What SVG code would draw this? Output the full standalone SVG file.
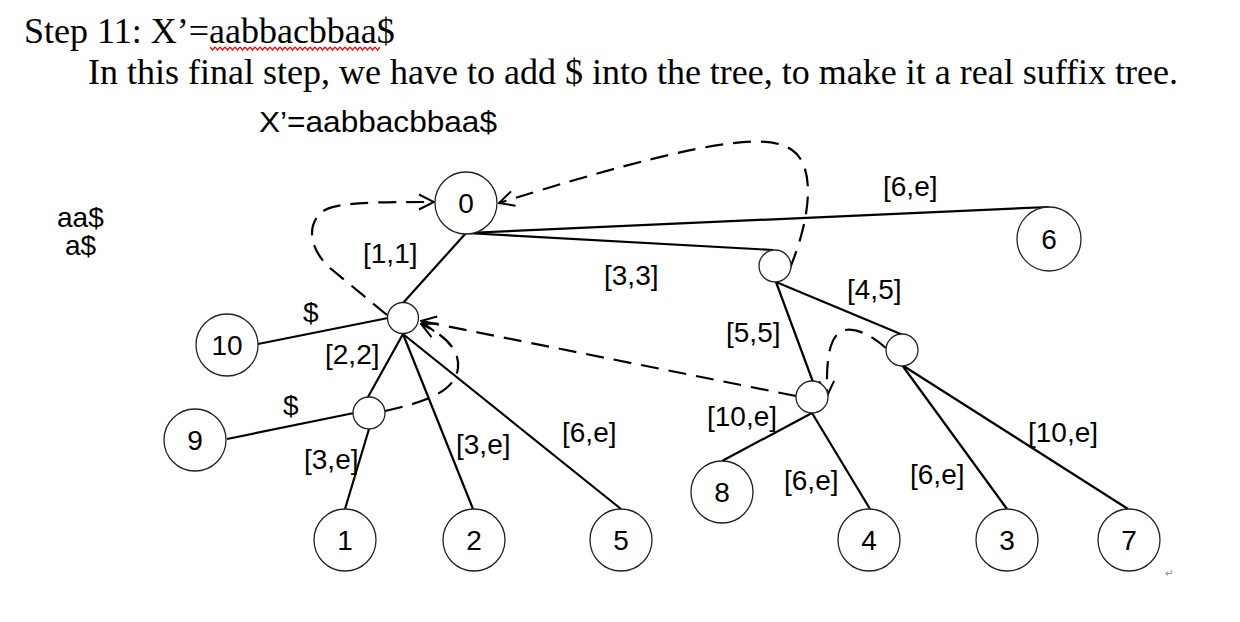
<svg xmlns="http://www.w3.org/2000/svg" width="1240" height="622" viewBox="0 0 1240 622">
<style>
.serif{font-family:"Liberation Serif","Times New Roman",serif;fill:#000}
.sans{font-family:"Liberation Sans",Arial,sans-serif;fill:#000}
.lbl{font-family:"Liberation Sans",Arial,sans-serif;font-size:28px;fill:#000}
.num{font-family:"Liberation Sans",Arial,sans-serif;font-size:28px;fill:#000;text-anchor:middle}
.node{fill:#fff;stroke:#222;stroke-width:1.3}
.edge{stroke:#000;stroke-width:2.2;fill:none}
.link{stroke:#000;stroke-width:2.2;fill:none;stroke-dasharray:18 10}
</style>
<defs>
<marker id="open" viewBox="0 0 18 18" refX="17" refY="9" markerWidth="18" markerHeight="18" markerUnits="userSpaceOnUse" orient="auto">
<path d="M2 1.5 L17 9 L2 16.5" fill="none" stroke="#000" stroke-width="2"/>
</marker>
<pattern id="wave" x="210" y="46" width="5" height="5" patternUnits="userSpaceOnUse">
<path d="M0 1 L2.5 4 L5 1" fill="none" stroke="#e01010" stroke-width="1.4"/>
</pattern>
</defs>
<rect width="1240" height="622" fill="#fff"/>

<g id="header">
<text class="serif" x="24" y="43" font-size="36">Step 11: X’=aabbacbbaa$</text>
<rect x="210" y="46" width="170" height="5" fill="url(#wave)"/>
<text class="serif" x="88" y="84" font-size="36">In this final step, we have to add $ into the tree, to make it a real suffix tree.</text>
<text class="sans" x="259" y="132" font-size="30" textLength="238" lengthAdjust="spacingAndGlyphs">X’=aabbacbbaa$</text>
<text class="lbl" x="57" y="227">aa$</text>
<text class="lbl" x="65" y="255">a$</text>
<text x="1165" y="577" font-family="'DejaVu Sans',sans-serif" font-size="11" fill="#999">↵</text>
</g>

<g id="connectors">
<line class="edge" x1="466" y1="233" x2="1049" y2="207"/>
<line class="edge" x1="466" y1="233" x2="773" y2="250"/>
<line class="edge" x1="466" y1="233" x2="403" y2="303"/>
<line class="edge" x1="258" y1="344" x2="388" y2="318"/>
<line class="edge" x1="403" y1="334" x2="368" y2="397"/>
<line class="edge" x1="403" y1="334" x2="473" y2="509"/>
<line class="edge" x1="403" y1="334" x2="621" y2="509"/>
<line class="edge" x1="227" y1="439" x2="354" y2="413"/>
<line class="edge" x1="369" y1="429" x2="345" y2="509"/>
<line class="edge" x1="776" y1="282" x2="813" y2="382"/>
<line class="edge" x1="776" y1="282" x2="903" y2="335"/>
<line class="edge" x1="812" y1="413" x2="722" y2="461"/>
<line class="edge" x1="812" y1="413" x2="870" y2="509"/>
<line class="edge" x1="902" y1="365" x2="1007" y2="509"/>
<line class="edge" x1="902" y1="365" x2="1128" y2="509"/>

<path class="link" d="M790 268 C812 215 815 165 792 150 C768 132 700 140 499 203" marker-end="url(#open)"/>
<path class="link" d="M387 315 L330 268 C308 248 306 222 325 210 C340 202 380 202 434 202" marker-end="url(#open)"/>
<path class="link" d="M796 396 L421 321" marker-end="url(#open)"/>
<path class="link" d="M385 411 C425 402 455 392 458 368 C460 350 445 335 421 324" marker-end="url(#open)"/>
<path class="link" d="M886 348 C872 336 858 328 845 330 C830 334 826 355 827 396" marker-end="url(#open)"/>

<text class="lbl" x="883" y="196">[6,e]</text>
<text class="lbl" x="363" y="263">[1,1]</text>
<text class="lbl" x="604" y="285">[3,3]</text>
<text class="lbl" x="847" y="299">[4,5]</text>
<text class="lbl" x="726" y="342">[5,5]</text>
<text class="lbl" x="707" y="426">[10,e]</text>
<text class="lbl" x="784" y="490">[6,e]</text>
<text class="lbl" x="910" y="484">[6,e]</text>
<text class="lbl" x="1028" y="442">[10,e]</text>
<text class="lbl" x="303" y="322">$</text>
<text class="lbl" x="325" y="364">[2,2]</text>
<text class="lbl" x="283" y="415">$</text>
<text class="lbl" x="304" y="469">[3,e]</text>
<text class="lbl" x="456" y="454">[3,e]</text>
<text class="lbl" x="562" y="442">[6,e]</text>
</g>

<g id="n0"><circle class="node" cx="466" cy="203" r="31"/><text class="num" x="466" y="213">0</text></g>
<g id="n6"><circle class="node" cx="1049" cy="239" r="32"/><text class="num" x="1049" y="249">6</text></g>
<g id="nA"><circle class="node" cx="775" cy="266" r="16"/></g>
<g id="nB"><circle class="node" cx="403" cy="318" r="15.5"/></g>
<g id="nC"><circle class="node" cx="369" cy="413" r="16"/></g>
<g id="nD"><circle class="node" cx="902" cy="350" r="16"/></g>
<g id="nE"><circle class="node" cx="812" cy="397" r="16"/></g>
<g id="n10"><circle class="node" cx="227" cy="345" r="31"/><text class="num" x="227" y="355">10</text></g>
<g id="n9"><circle class="node" cx="195" cy="440" r="31"/><text class="num" x="195" y="450">9</text></g>
<g id="n1"><circle class="node" cx="345" cy="540" r="31"/><text class="num" x="345" y="550">1</text></g>
<g id="n2"><circle class="node" cx="474" cy="540" r="31"/><text class="num" x="474" y="550">2</text></g>
<g id="n5"><circle class="node" cx="621" cy="540" r="31"/><text class="num" x="621" y="550">5</text></g>
<g id="n8"><circle class="node" cx="722" cy="492" r="31"/><text class="num" x="722" y="502">8</text></g>
<g id="n4"><circle class="node" cx="869" cy="540" r="31"/><text class="num" x="869" y="550">4</text></g>
<g id="n3"><circle class="node" cx="1007" cy="540" r="31"/><text class="num" x="1007" y="550">3</text></g>
<g id="n7"><circle class="node" cx="1129" cy="540" r="31"/><text class="num" x="1129" y="550">7</text></g>
</svg>
